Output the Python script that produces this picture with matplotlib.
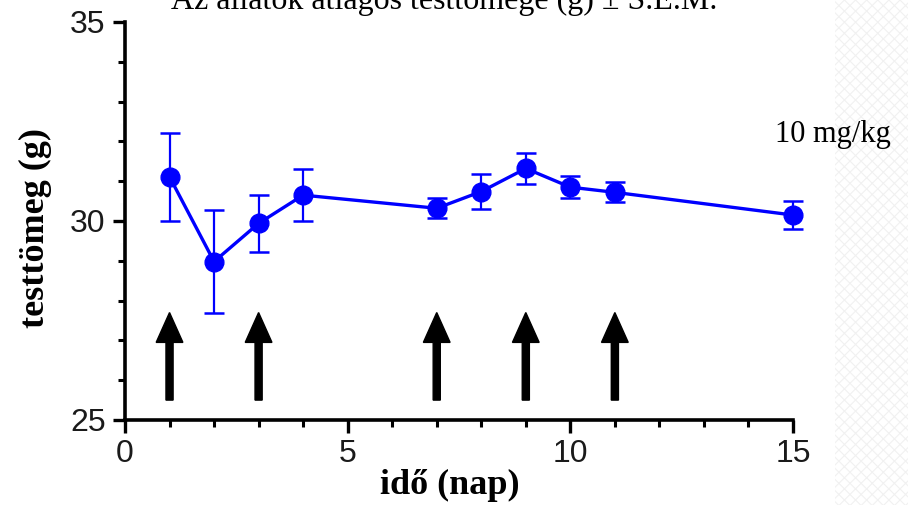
import matplotlib
matplotlib.use('Agg')
import matplotlib.pyplot as plt
from matplotlib.patches import Rectangle
from matplotlib.ticker import MultipleLocator

# napok és átlagos testtömeg (g) ± S.E.M.
days = [1, 2, 3, 4, 7, 8, 9, 10, 11, 15]
mean_weight = [31.11, 28.98, 29.94, 30.65, 30.32, 30.74, 31.32, 30.85, 30.72, 30.15]
sem = [1.10, 1.30, 0.71, 0.65, 0.25, 0.44, 0.38, 0.27, 0.25, 0.35]

# kezelési napok (nyilak)
dose_days = [1, 3, 7, 9, 11]
arrow_base = 25.5
arrow_tip = 27.7

title = 'Az állatok átlagos testtömege (g) ± S.E.M.'
dose_label = '10 mg/kg'
xlabel = 'idő (nap)'
ylabel = 'testtömeg (g)'

fig = plt.figure(figsize=(9.08, 5.05), dpi=100)

# halvány mintás sáv a jobb szélen
plt.rcParams['hatch.linewidth'] = 0.8
fig.patches.append(Rectangle((835 / 908, 0), 1 - 835 / 908, 1, transform=fig.transFigure,
                             facecolor='white', edgecolor='#f1f1f1', hatch='xxx', lw=0, zorder=0))

ax = fig.add_axes([125 / 908, 1 - 420 / 505, 668 / 908, 398 / 505])

ax.errorbar(days, mean_weight, yerr=sem, color='#0000ff', lw=2.4, marker='o', markersize=13.5,
            ecolor='#0000ff', elinewidth=1.6, capsize=7, capthick=1.8, clip_on=False, zorder=3)

for d in dose_days:
    ax.arrow(d, arrow_base, 0, arrow_tip - arrow_base, width=0.16, head_width=0.6,
             head_length=0.75, length_includes_head=True, color='black', zorder=2)

ax.set_xlim(0, 15)
ax.set_ylim(25, 35)
ax.xaxis.set_major_locator(MultipleLocator(5))
ax.xaxis.set_minor_locator(MultipleLocator(1))
ax.yaxis.set_major_locator(MultipleLocator(5))
ax.yaxis.set_minor_locator(MultipleLocator(1))

for side in ['top', 'right']:
    ax.spines[side].set_visible(False)
for side in ['left', 'bottom']:
    ax.spines[side].set_linewidth(2.6)

ax.tick_params(which='major', length=9, width=2.4, pad=5, labelsize=23)
ax.tick_params(which='minor', length=5, width=2.2)
for lbl in ax.get_xticklabels() + ax.get_yticklabels():
    lbl.set_fontfamily('Liberation Sans')
    lbl.set_color('#1a1a1a')

fig.text(35 / 908, 1 - 228.5 / 505, ylabel, rotation=90, ha='center', va='center',
         fontsize=26, fontweight='bold', family='Liberation Serif')
fig.text(450 / 908, 1 - 485 / 505, xlabel, ha='center', va='center',
         fontsize=26, fontweight='bold', family='Liberation Serif')
fig.text(444.5 / 908, 1 - 9 / 505, title, ha='center', va='baseline',
         fontsize=23, family='Liberation Serif')
fig.text(775 / 908, 1 - 142 / 505, dose_label, ha='left', va='baseline',
         fontsize=22, family='Liberation Serif')

fig.savefig('out.png', dpi=100)
